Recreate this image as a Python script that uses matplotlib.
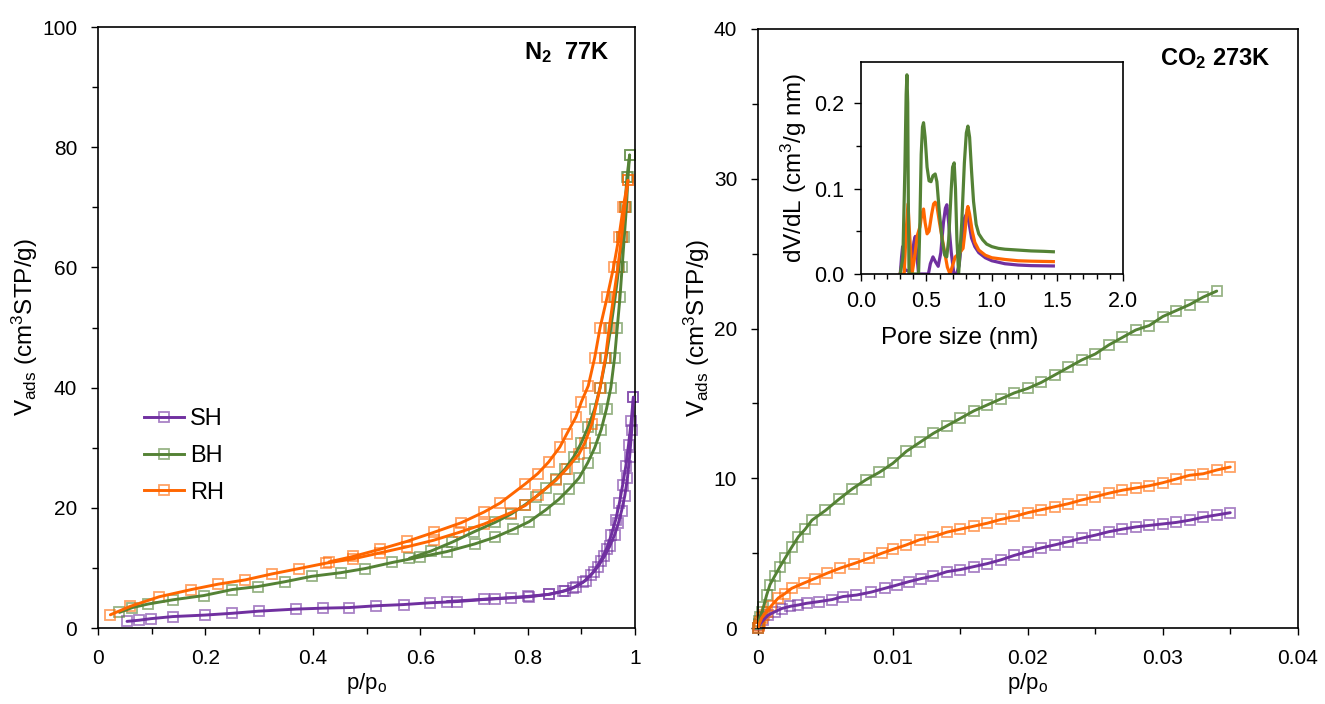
import matplotlib
matplotlib.use('Agg')
import matplotlib.pyplot as plt
import matplotlib.colors as mcolors
from matplotlib.ticker import MultipleLocator, FuncFormatter, FormatStrFormatter
from matplotlib.lines import Line2D

plt.rcParams['font.family'] = ['Liberation Sans', 'DejaVu Sans']
plt.rcParams['mathtext.fontset'] = 'custom'
plt.rcParams['mathtext.rm'] = 'Liberation Sans'
plt.rcParams['mathtext.it'] = 'Liberation Sans:italic'
plt.rcParams['mathtext.bf'] = 'Liberation Sans:bold'

# ---------------- colours ----------------
C_SH = '#7030A0'
C_BH = '#548235'
C_RH = '#FF6600'

# ---------------- N2 77K isotherms (left) ----------------
SH_n2_ads_p = [0.054, 0.077, 0.098, 0.139, 0.199, 0.25, 0.299, 0.369, 0.419, 0.468, 0.518, 0.569,
               0.619, 0.669, 0.719, 0.769, 0.803, 0.839, 0.865, 0.885, 0.903, 0.918, 0.931, 0.943,
               0.953, 0.962, 0.969, 0.975, 0.981, 0.986, 0.990, 0.994, 0.997]
SH_n2_ads_v = [1.1, 1.3, 1.55, 1.9, 2.15, 2.45, 2.8, 3.15, 3.3, 3.4, 3.7, 3.9,
               4.2, 4.4, 4.75, 5.0, 5.2, 5.6, 6.1, 6.7, 7.6, 8.8, 10.2, 11.9,
               13.6, 15.5, 17.4, 19.5, 22.0, 25.0, 28.5, 33.0, 38.4]
SH_n2_des_p = [0.997, 0.993, 0.988, 0.983, 0.977, 0.971, 0.964, 0.956, 0.947, 0.936, 0.923, 0.908,
               0.89, 0.87, 0.84, 0.80, 0.74, 0.65]
SH_n2_des_v = [38.4, 34.5, 30.5, 27.0, 23.8, 20.8, 18.0, 15.5, 13.2, 11.2, 9.4, 7.9,
               6.9, 6.2, 5.6, 5.25, 4.9, 4.4]

BH_n2_ads_p = [0.04, 0.064, 0.094, 0.14, 0.197, 0.25, 0.298, 0.348, 0.398, 0.452, 0.498, 0.548,
               0.599, 0.649, 0.702, 0.739, 0.773, 0.803, 0.833, 0.858, 0.878, 0.896, 0.912, 0.925,
               0.937, 0.947, 0.955, 0.962, 0.967, 0.972, 0.976, 0.980, 0.984, 0.987, 0.990]
BH_n2_ads_v = [2.6, 3.4, 4.0, 4.7, 5.4, 6.4, 6.9, 7.7, 8.6, 9.2, 9.9, 10.9,
               11.8, 12.7, 14.0, 15.1, 16.4, 17.7, 19.6, 21.4, 23.2, 25.0, 27.5, 30.0,
               33.0, 36.5, 40.0, 45.0, 50.0, 55.0, 60.0, 65.0, 70.0, 75.0, 78.7]
BH_n2_des_p = [0.990, 0.985, 0.981, 0.976, 0.970, 0.963, 0.955, 0.946, 0.935, 0.925, 0.913, 0.90,
               0.886, 0.87, 0.853, 0.835, 0.815, 0.795, 0.77, 0.74, 0.70, 0.66, 0.62, 0.58]
BH_n2_des_v = [78.7, 75.0, 70.0, 65.0, 60.0, 55.0, 50.0, 45.0, 40.0, 36.5, 33.5, 30.8,
               28.5, 26.5, 24.8, 23.3, 21.8, 20.5, 19.0, 17.6, 16.0, 14.3, 12.8, 11.6]

RH_n2_ads_p = [0.023, 0.06, 0.114, 0.174, 0.224, 0.274, 0.324, 0.375, 0.425, 0.475, 0.525, 0.575,
               0.625, 0.672, 0.719, 0.769, 0.796, 0.819, 0.853, 0.873, 0.896, 0.906, 0.92, 0.935,
               0.945, 0.952, 0.96, 0.968, 0.975, 0.981, 0.987]
RH_n2_ads_v = [2.2, 3.6, 5.2, 6.4, 7.3, 8.0, 9.0, 9.9, 10.8, 11.5, 12.5, 13.5,
               14.6, 15.9, 17.3, 19.2, 20.4, 22.1, 24.6, 26.5, 29.0, 30.7, 34.0, 40.0,
               45.0, 50.0, 55.0, 60.0, 65.0, 70.0, 74.5]
RH_n2_des_p = [0.987, 0.978, 0.97, 0.96, 0.948, 0.935, 0.925, 0.913, 0.90, 0.89, 0.873, 0.86,
               0.839, 0.819, 0.796, 0.749, 0.719, 0.676, 0.625, 0.575, 0.525, 0.475, 0.43]
RH_n2_des_v = [74.5, 70.0, 65.0, 60.0, 55.0, 50.0, 45.0, 40.3, 37.6, 35.1, 32.3, 30.1,
               27.6, 25.7, 24.0, 20.8, 19.3, 17.5, 15.9, 14.4, 13.1, 11.9, 11.0]

# ---------------- CO2 273K isotherms (right) ----------------
BH_co2_p = [0, 0.00005, 0.0001, 0.00015, 0.0003, 0.0004, 0.00064, 0.00089, 0.00126, 0.00163, 0.002,
            0.0025, 0.003, 0.0035, 0.004, 0.005, 0.006, 0.007, 0.008, 0.009, 0.010, 0.011, 0.012,
            0.013, 0.014, 0.015, 0.016, 0.017, 0.018, 0.019, 0.020, 0.021, 0.022, 0.023, 0.024,
            0.025, 0.026, 0.027, 0.028, 0.029, 0.030, 0.031, 0.032, 0.033, 0.034]
BH_co2_v = [0, 0.3, 0.5, 0.75, 1.1, 1.4, 2.2, 2.9, 3.5, 4.1, 4.65,
            5.4, 6.1, 6.6, 7.2, 7.85, 8.6, 9.3, 9.9, 10.4, 11.0, 11.8, 12.4,
            13.0, 13.5, 14.0, 14.5, 14.9, 15.3, 15.7, 16.0, 16.4, 16.9, 17.4, 17.9,
            18.3, 18.9, 19.4, 19.9, 20.2, 20.8, 21.2, 21.6, 22.1, 22.5]

RH_co2_p = [0, 0.00005, 0.00015, 0.00027, 0.00045, 0.00064, 0.001, 0.0015, 0.002, 0.0025, 0.0034,
            0.0042, 0.0051, 0.0061, 0.0071, 0.0082, 0.0092, 0.010, 0.011, 0.012, 0.013, 0.014,
            0.015, 0.016, 0.017, 0.018, 0.019, 0.020, 0.021, 0.022, 0.023, 0.024, 0.025, 0.026,
            0.027, 0.028, 0.029, 0.030, 0.031, 0.032, 0.033, 0.034, 0.035]
RH_co2_v = [0, 0.15, 0.4, 0.67, 0.9, 1.1, 1.5, 2.0, 2.3, 2.65, 3.0,
            3.3, 3.65, 4.0, 4.3, 4.65, 5.0, 5.25, 5.55, 5.9, 6.1, 6.4,
            6.6, 6.8, 7.0, 7.25, 7.45, 7.7, 7.9, 8.1, 8.3, 8.55, 8.77, 9.0,
            9.2, 9.35, 9.5, 9.7, 9.95, 10.2, 10.3, 10.55, 10.75]

SH_co2_p = [0, 0.0001, 0.0004, 0.00077, 0.00126, 0.00176, 0.0024, 0.003, 0.0036, 0.0045, 0.0055,
            0.0063, 0.0073, 0.0084, 0.0094, 0.0103, 0.0112, 0.0121, 0.013, 0.014, 0.015, 0.016,
            0.017, 0.018, 0.019, 0.020, 0.021, 0.022, 0.023, 0.024, 0.025, 0.026, 0.027, 0.028,
            0.029, 0.030, 0.031, 0.032, 0.033, 0.034, 0.035]
SH_co2_v = [0, 0.2, 0.53, 0.87, 1.09, 1.3, 1.45, 1.54, 1.65, 1.76, 1.9,
            2.1, 2.2, 2.4, 2.65, 2.87, 3.1, 3.3, 3.47, 3.76, 3.9, 4.1,
            4.3, 4.55, 4.85, 5.1, 5.35, 5.55, 5.77, 6.0, 6.2, 6.43, 6.6, 6.75,
            6.85, 6.95, 7.05, 7.2, 7.4, 7.55, 7.7]

# ---------------- pore size distribution (inset) ----------------
BH_psd_L = [0.30, 0.32, 0.335, 0.345, 0.351, 0.357, 0.362, 0.367, 0.44, 0.45, 0.46, 0.47, 0.478,
            0.49, 0.505, 0.52, 0.535, 0.55, 0.567, 0.58, 0.60, 0.62, 0.64, 0.655, 0.67, 0.69, 0.70,
            0.712, 0.722, 0.733, 0.746, 0.77, 0.79, 0.805, 0.817, 0.83, 0.845, 0.86, 0.88, 0.90,
            0.93, 0.96, 1.0, 1.05, 1.1, 1.2, 1.3, 1.4, 1.47]
BH_psd_v = [0.0, 0.02, 0.12, 0.21, 0.233, 0.2, 0.08, 0.0, 0.0, 0.06, 0.14, 0.172, 0.177,
            0.16, 0.125, 0.109, 0.108, 0.115, 0.117, 0.108, 0.07, 0.04, 0.022, 0.02, 0.04, 0.1, 0.125,
            0.13, 0.1, 0.04, 0.0, 0.06, 0.13, 0.165, 0.173, 0.16, 0.12, 0.085, 0.058, 0.047,
            0.04, 0.035, 0.032, 0.030, 0.029, 0.028, 0.027, 0.0265, 0.026]

RH_psd_L = [0.30, 0.33, 0.345, 0.359, 0.37, 0.39, 0.41, 0.43, 0.45, 0.465, 0.478, 0.49, 0.505,
            0.52, 0.54, 0.555, 0.567, 0.58, 0.60, 0.62, 0.64, 0.66, 0.68, 0.70, 0.72, 0.75, 0.78,
            0.795, 0.81, 0.817, 0.83, 0.85, 0.87, 0.90, 0.95, 1.0, 1.1, 1.2, 1.3, 1.47]
RH_psd_v = [0.0, 0.0, 0.05, 0.082, 0.05, 0.0, 0.02, 0.045, 0.055, 0.07, 0.076, 0.06, 0.047,
            0.05, 0.07, 0.082, 0.084, 0.08, 0.06, 0.042, 0.025, 0.008, 0.0, 0.01, 0.02, 0.024, 0.03,
            0.05, 0.075, 0.079, 0.07, 0.05, 0.037, 0.028, 0.022, 0.019, 0.017, 0.0155, 0.015, 0.0145]

SH_psd_L = [0.30, 0.31, 0.318, 0.325, 0.335, 0.37, 0.39, 0.405, 0.415, 0.425, 0.44, 0.515, 0.53,
            0.55, 0.57, 0.59, 0.61, 0.63, 0.645, 0.656, 0.67, 0.69, 0.71, 0.73, 0.75, 0.77, 0.79,
            0.809, 0.825, 0.845, 0.87, 0.90, 0.95, 1.0, 1.1, 1.2, 1.3, 1.47]
SH_psd_v = [0.0, 0.02, 0.032, 0.015, 0.005, 0.003, 0.02, 0.038, 0.044, 0.025, 0.0, 0.0, 0.012,
            0.02, 0.014, 0.009, 0.025, 0.06, 0.077, 0.081, 0.06, 0.025, 0.0, 0.0, 0.01, 0.04, 0.065,
            0.071, 0.06, 0.042, 0.032, 0.025, 0.019, 0.0155, 0.012, 0.0105, 0.0098, 0.0094]

labels = ['SH', 'BH', 'RH']
colors = [C_SH, C_BH, C_RH]

# ---------------- figure ----------------
W, H = 1325, 704
fig = plt.figure(figsize=(W / 100, H / 100), dpi=100)
axL = fig.add_axes([98 / W, 1 - 628 / H, (635 - 98) / W, (628 - 27) / H])
axR = fig.add_axes([758 / W, 1 - 628 / H, (1297.7 - 758) / W, (628 - 29) / H])
axI = fig.add_axes([861 / W, 1 - 274 / H, (1122.7 - 861) / W, (274 - 62) / H])

MS = 7.3
LW = 2.1


def draw(ax, p, v, color, ms=MS, lw=LW):
    ax.plot(p, v, ls='none', marker='s', ms=ms, mfc='none',
            mec=mcolors.to_rgba(color, 0.6), mew=1.3, zorder=2, clip_on=False)
    ax.plot(p, v, color=color, lw=lw, zorder=3, solid_capstyle='round', solid_joinstyle='round')


# left
draw(axL, SH_n2_ads_p, SH_n2_ads_v, C_SH)
draw(axL, SH_n2_des_p, SH_n2_des_v, C_SH)
draw(axL, BH_n2_ads_p, BH_n2_ads_v, C_BH)
draw(axL, BH_n2_des_p, BH_n2_des_v, C_BH)
draw(axL, RH_n2_ads_p, RH_n2_ads_v, C_RH)
draw(axL, RH_n2_des_p, RH_n2_des_v, C_RH)

# right
draw(axR, SH_co2_p, SH_co2_v, C_SH)
draw(axR, BH_co2_p, BH_co2_v, C_BH)
draw(axR, RH_co2_p, RH_co2_v, C_RH)

# inset
axI.set_facecolor('white')
axI.plot(SH_psd_L, SH_psd_v, color=C_SH, lw=2.3)
axI.plot(RH_psd_L, RH_psd_v, color=C_RH, lw=2.3)
axI.plot(BH_psd_L, BH_psd_v, color=C_BH, lw=2.3)

gfmt = FuncFormatter(lambda x, pos: ('%g' % round(x, 6)))

FS = 15
LFS = 17.5
for ax in (axL, axR):
    for s in ax.spines.values():
        s.set_linewidth(1.2)
    ax.tick_params(which='both', direction='out', labelsize=FS, pad=10, width=1.0)
    ax.tick_params(which='major', length=5)
    ax.tick_params(which='minor', length=4)

axL.set_xlim(0, 1)
axL.set_ylim(0, 100)
axL.xaxis.set_major_locator(MultipleLocator(0.2))
axL.xaxis.set_minor_locator(MultipleLocator(0.1))
axL.yaxis.set_major_locator(MultipleLocator(20))
axL.yaxis.set_minor_locator(MultipleLocator(10))
axL.xaxis.set_major_formatter(gfmt)

axR.set_xlim(0, 0.04)
axR.set_ylim(0, 40)
axR.xaxis.set_major_locator(MultipleLocator(0.01))
axR.xaxis.set_minor_locator(MultipleLocator(0.005))
axR.yaxis.set_major_locator(MultipleLocator(10))
axR.yaxis.set_minor_locator(MultipleLocator(5))
axR.xaxis.set_major_formatter(gfmt)

ylab = r'V$_{\rm ads}$ (cm$^3$STP/g)'
xlab = r'p/p$_{\rm o}$'
axL.set_ylabel(ylab, fontsize=LFS)
axR.set_ylabel(ylab, fontsize=LFS)
axL.set_xlabel(xlab, fontsize=16)
axR.set_xlabel(xlab, fontsize=16)
axL.yaxis.set_label_coords(-0.108, 0.5)
axR.yaxis.set_label_coords(-0.086, 0.5)
axL.xaxis.set_label_coords(0.5, -0.072)
axR.xaxis.set_label_coords(0.5, -0.072)

axL.text(0.953, 95.8, r'$\mathbf{N_2}$  77K', ha='right', va='center', fontsize=17, fontweight='bold')
axR.text(0.0380, 38.0, r'$\mathbf{CO_2}$ 273K', ha='right', va='center', fontsize=17, fontweight='bold')

handles = [Line2D([], [], color=c, lw=LW, marker='s', ms=MS, mfc='none',
                  mec=mcolors.to_rgba(c, 0.6), mew=1.3) for c in colors]
axL.legend(handles, labels, loc='center left', bbox_to_anchor=((144 - 98) / 537, (628 - 456) / 601),
           frameon=False, fontsize=17, handlelength=1.7, handletextpad=0.25, labelspacing=0.62,
           borderpad=0, borderaxespad=0, numpoints=1)

# inset axes
for s in axI.spines.values():
    s.set_linewidth(1.2)
axI.set_xlim(0, 2)
axI.set_ylim(0, 0.248)
axI.xaxis.set_major_locator(MultipleLocator(0.5))
axI.xaxis.set_minor_locator(MultipleLocator(0.1))
axI.yaxis.set_major_locator(MultipleLocator(0.1))
axI.yaxis.set_minor_locator(MultipleLocator(0.05))
axI.xaxis.set_major_formatter(FormatStrFormatter('%.1f'))
axI.yaxis.set_major_formatter(FormatStrFormatter('%.1f'))
axI.tick_params(which='both', direction='out', labelsize=15.5, pad=7, width=1.0)
axI.tick_params(which='major', length=5)
axI.tick_params(which='minor', length=3.5)
axI.set_xlabel('Pore size (nm)', fontsize=17.5)
axI.set_ylabel(r'dV/dL (cm$^3$/g nm)', fontsize=17.5)
axI.xaxis.set_label_coords(0.378, -0.25)
axI.yaxis.set_label_coords(-0.2, 0.5)

fig.savefig('out.png', dpi=100)
